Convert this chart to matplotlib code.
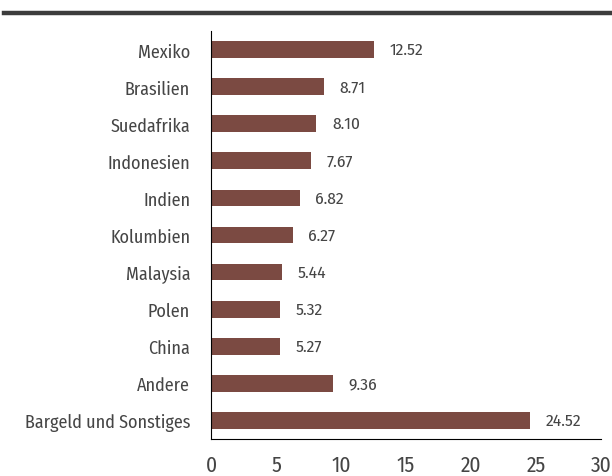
import matplotlib
matplotlib.use("Agg")
import matplotlib.pyplot as plt

categories = ["Mexiko", "Brasilien", "Suedafrika", "Indonesien", "Indien", "Kolumbien",
              "Malaysia", "Polen", "China", "Andere", "Bargeld und Sonstiges"]
values = [12.52, 8.71, 8.10, 7.67, 6.82, 6.27, 5.44, 5.32, 5.27, 9.36, 24.52]
xticks = [0, 5, 10, 15, 20, 25, 30]

plt.rcParams['font.family'] = ['Fira Sans Condensed', 'DejaVu Sans']

bar_color = "#7B4A42"
text_color = "#454545"

fig = plt.figure(figsize=(6.12, 4.77), dpi=100)
ax = fig.add_axes([211/612, 1-440/477, 390/612, 408/477])

y = list(range(len(categories)))
ax.barh(y, values, height=0.45, color=bar_color)
for yi, v in zip(y, values):
    ax.text(v + 1.2, yi, f"{v:.2f}", va="center", ha="left", fontsize=12.5,
            color=text_color)

ax.set_ylim(len(categories) - 0.5, -0.5)
ax.set_xlim(0, 30)
ax.set_yticks(y)
ax.set_yticklabels(categories, fontsize=13, color=text_color)
ax.set_xticks(xticks)
ax.set_xticklabels([str(t) for t in xticks], fontsize=15.5, color=text_color)
ax.tick_params(axis='y', length=0, pad=15)
ax.tick_params(axis='x', length=0, pad=11)
for s in ["top", "right"]:
    ax.spines[s].set_visible(False)
ax.spines["left"].set_color("black")
ax.spines["bottom"].set_color("black")

fig.add_artist(plt.Line2D([4/612, 1], [1-14/477, 1-14/477], color="#3c3c3c", linewidth=3.2,
                          transform=fig.transFigure))

fig.savefig("out.png", dpi=100)
